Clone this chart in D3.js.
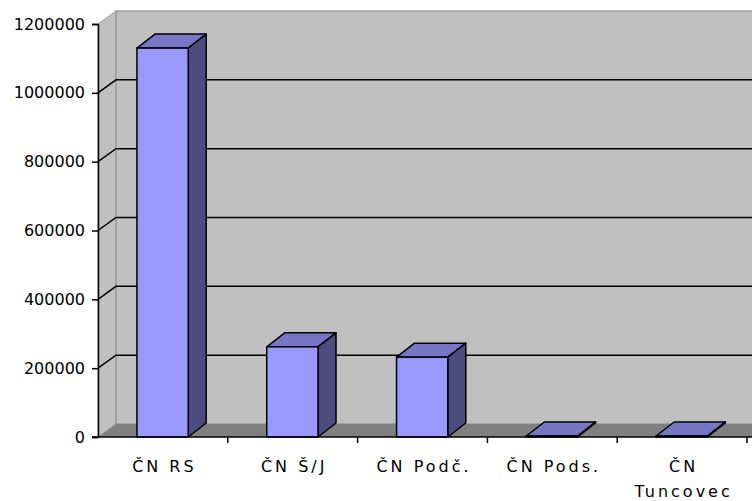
<!DOCTYPE html>
<html>
<head>
<meta charset="utf-8">
<script src="https://cdnjs.cloudflare.com/ajax/libs/d3/7.8.5/d3.min.js"></script>
<style>
	body { margin: 0; background: #fff; }
	svg text { font-family: "DejaVu Sans", sans-serif; font-size: 16px; fill: #000; }
</style>
</head>
<body>
<svg id="chart" width="752" height="501"></svg>
<script>
var categories = [ "ČN RS", "ČN Š/J", "ČN Podč.", "ČN Pods.", "ČN Tuncovec" ];
var values     = [ 1130000, 262000, 232000, 3000, 3000 ];
var y_ticks    = [ 0, 200000, 400000, 600000, 800000, 1000000, 1200000 ];

var svg = d3.select( "#chart" );

// plot frame (front plane) and 3D depth of walls / bars
var plot_left = 98, plot_right = 747, plot_top = 24, plot_bottom = 437;
var wall_dx = 18, wall_dy = -13;
var bar_dx  = 18, bar_dy  = -14;

var x = d3.scaleBand().domain( categories ).range([ plot_left, plot_right ]);
var y = d3.scaleLinear().domain([ 0, 1200000 ]).range([ plot_bottom, plot_top ]);

var bw = x.bandwidth();
var far_right = 760;

// Left side wall
svg.append( "path" )
	.attr( "d", d3.line()([ [ plot_left, y(0) ], [ plot_left, y(1200000) ], [ plot_left + wall_dx, y(1200000) + wall_dy ], [ plot_left + wall_dx, y(0) + wall_dy ] ]) + "Z" )
	.style( "fill", "#c0c0c0" )
	.style( "stroke", "#a0a0a0" );

// Back wall
svg.append( "rect" )
	.attr( "x", plot_left + wall_dx )
	.attr( "y", y(1200000) + wall_dy )
	.attr( "width", far_right - plot_left - wall_dx )
	.attr( "height", y(0) - y(1200000) )
	.style( "fill", "#c0c0c0" )
	.style( "stroke", "#9a9a9a" )
	.style( "stroke-width", 1.5 );

// Floor
svg.append( "path" )
	.attr( "d", d3.line()([ [ plot_left, y(0) ], [ plot_left + wall_dx, y(0) + wall_dy ], [ far_right, y(0) + wall_dy ], [ far_right, y(0) ] ]) + "Z" )
	.style( "fill", "#808080" );

// Gridlines (side wall + back wall)
svg.append( "g" )
	.selectAll( "path" )
	.data( y_ticks.filter( d => d > 0 && d < 1200000 ) )
	.enter()
		.append( "path" )
		.attr( "d", function(d){
			return d3.line()([ [ plot_left, y(d) ], [ plot_left + wall_dx, y(d) + wall_dy ], [ far_right, y(d) + wall_dy ] ]);
		})
		.style( "fill", "none" )
		.style( "stroke", "#000" )
		.style( "stroke-width", 1.5 );

// Bars
var bars = svg.append( "g" )
	.selectAll( "g" )
	.data( categories.map( (c, i) => ({ cat : c, val : values[i] }) ) )
	.enter()
		.append( "g" );

function bx(d){ return x( d.cat ) + 0.30 * bw; }
var bwid = 0.395 * bw;

bars.append( "path" ) // top
	.attr( "d", function(d){
		var x0 = bx(d), y0 = y( d.val );
		return d3.line()([ [ x0, y0 ], [ x0 + bar_dx, y0 + bar_dy ], [ x0 + bwid + bar_dx, y0 + bar_dy ], [ x0 + bwid, y0 ] ]) + "Z";
	})
	.style( "fill", "#7676c4" )
	.style( "stroke", "#000" )
	.style( "stroke-width", 1.5 )
	.style( "stroke-linejoin", "round" );

bars.append( "path" ) // side
	.attr( "d", function(d){
		var x0 = bx(d) + bwid, y0 = y( d.val );
		return d3.line()([ [ x0, y0 ], [ x0 + bar_dx, y0 + bar_dy ], [ x0 + bar_dx, y(0) + bar_dy ], [ x0, y(0) ] ]) + "Z";
	})
	.style( "fill", "#4c4c7e" )
	.style( "stroke", "#000" )
	.style( "stroke-width", 1.5 )
	.style( "stroke-linejoin", "round" );

bars.append( "rect" ) // front
	.attr( "x", bx )
	.attr( "y", d => y( d.val ) )
	.attr( "width", bwid )
	.attr( "height", d => y(0) - y( d.val ) )
	.style( "fill", "#9999ff" )
	.style( "stroke", "#000" )
	.style( "stroke-width", 1.5 );

// Y Axis
var y_axis = d3.axisLeft().scale( y ).tickValues( y_ticks ).tickFormat( d3.format( "d" ) )
	.tickSizeOuter( 0 ).tickSize( 6 ).tickPadding( 7 );
var gy = svg.append( "g" )
	.attr( "class", "y axis" )
	.attr( "transform", "translate(" + plot_left + ",0)" )
	.call( y_axis );
gy.attr( "font-size", null ).attr( "font-family", null );
gy.selectAll( "path, line" ).style( "stroke", "#000" ).style( "stroke-width", 1.5 );

// X Axis
svg.append( "line" )
	.attr( "x1", plot_left - 6 ).attr( "x2", 752 )
	.attr( "y1", plot_bottom ).attr( "y2", plot_bottom )
	.style( "stroke", "#000" )
	.style( "stroke-width", 1.5 );

svg.append( "g" )
	.selectAll( "line" )
	.data( categories )
	.enter()
		.append( "line" )
		.attr( "x1", d => x(d) + bw ).attr( "x2", d => x(d) + bw )
		.attr( "y1", plot_bottom ).attr( "y2", plot_bottom + 6 )
		.style( "stroke", "#000" )
		.style( "stroke-width", 1.5 );

var labels = svg.append( "g" )
	.selectAll( "text" )
	.data( categories )
	.enter()
		.append( "text" )
		.attr( "text-anchor", "middle" )
		.style( "letter-spacing", "3px" )
		.attr( "y", 472 );

labels.each(function(d){
	var t = d3.select( this );
	var cx = x(d) + bw / 2 + 1.5;
	t.text( d ).attr( "x", cx );
	if( this.getComputedTextLength() > 110 ){
		var words = d.split( " " );
		t.text( null );
		words.forEach(function(w, i){
			t.append( "tspan" ).attr( "x", cx ).attr( "dy", i ? 25 : 0 ).text( w );
		});
	}
});
</script>
</body>
</html>
